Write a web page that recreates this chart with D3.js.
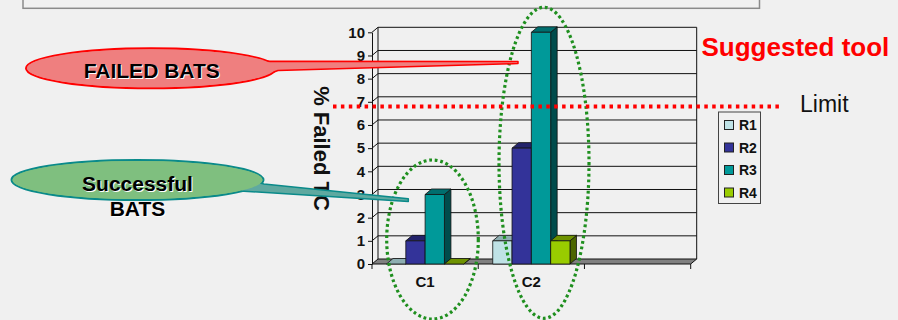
<!DOCTYPE html>
<html>
<head>
<meta charset="utf-8">
<script src="https://cdn.jsdelivr.net/npm/d3@7"></script>
<style>
  body { margin: 0; background: #f0f0f0; }
  svg { display: block; font-family: "Liberation Sans", Arial, sans-serif; }
</style>
</head>
<body>
<svg id="chart"></svg>
<script>
// chart data
const categories = ['C1', 'C2', 'C3'];
const category_labels = ['C1', 'C2', ''];
const series = ['R1', 'R2', 'R3', 'R4'];
const r1_values = [0, 1, null];
const r2_values = [1, 5, null];
const r3_values = [3, 10, null];
const r4_values = [0, 1, null];
const y_ticks = [0, 1, 2, 3, 4, 5, 6, 7, 8, 9, 10];
const limit_value = 6.8;

class Bar3DChart {
    constructor (config, data) {
        this.config = {
            parent: config.parent,
            width: config.width || 898,
            height: config.height || 320,
        };
        this.data = data;
        this.init();
    }

    init() {
        let self = this;

        self.svg = d3.select(self.config.parent)
            .attr('width', self.config.width)
            .attr('height', self.config.height);

        self.x0 = 372;
        self.x1 = 690.7;
        self.y0 = 264;
        self.y1 = 32.3;
        self.wall = {dx: 6, dy: -5};
        self.depth = {dx: 6.5, dy: -5.5};

        self.xscale = d3.scaleBand()
            .domain(categories)
            .range([self.x0, self.x1]);

        self.sscale = d3.scaleBand()
            .domain(series)
            .range([0, self.xscale.bandwidth()])
            .paddingInner(0)
            .paddingOuter(0.75);

        self.yscale = d3.scaleLinear()
            .domain([0, 10])
            .range([self.y0, self.y1]);

        self.colors = {
            R1: {front: '#bfe2e6', top: '#8eaeb1', side: '#5f7a7c'},
            R2: {front: '#333399', top: '#23236b', side: '#191950'},
            R3: {front: '#009999', top: '#006e6e', side: '#004c4c'},
            R4: {front: '#99cc00', top: '#6e9200', side: '#4c6600'},
        };
    }

    render() {
        let self = this;
        const w = self.wall;

        // frame box at top
        self.svg.append('rect')
            .attr('x', 23).attr('y', -40)
            .attr('width', 736.5).attr('height', 48.3)
            .attr('fill', 'none')
            .attr('stroke', '#8a8a8a')
            .attr('stroke-width', 1.5);

        // back wall gridlines and side wall
        const back = self.svg.append('g');
        y_ticks.filter(t => t > 0).forEach(t => {
            const y = self.yscale(t);
            back.append('line')
                .attr('x1', self.x0 + w.dx).attr('x2', self.x1 + w.dx)
                .attr('y1', y + w.dy).attr('y2', y + w.dy)
                .attr('stroke', '#111').attr('stroke-width', 1);
            back.append('line')
                .attr('x1', self.x0).attr('x2', self.x0 + w.dx)
                .attr('y1', y).attr('y2', y + w.dy)
                .attr('stroke', '#111').attr('stroke-width', 1);
        });
        [self.x0 + w.dx, self.x1 + w.dx].forEach(x => {
            back.append('line')
                .attr('x1', x).attr('x2', x)
                .attr('y1', self.yscale(10) + w.dy).attr('y2', self.y0 + w.dy)
                .attr('stroke', '#111').attr('stroke-width', 1);
        });

        // floor
        self.svg.append('polygon')
            .attr('points', [[self.x0, self.y0], [self.x0 + w.dx, self.y0 + w.dy],
                             [self.x1 + w.dx, self.y0 + w.dy], [self.x1, self.y0]].join(' '))
            .attr('fill', '#808080')
            .attr('stroke', '#111')
            .attr('stroke-width', 1);

        // y axis
        self.yaxis = d3.axisLeft(self.yscale)
            .tickValues(y_ticks)
            .tickSize(4)
            .tickPadding(3)
            .tickSizeOuter(0);
        const yg = self.svg.append('g')
            .attr('transform', `translate(${self.x0}, 0)`)
            .call(self.yaxis);
        yg.attr('font-family', null).attr('font-size', null);
        yg.selectAll('text')
            .style('font-size', '15px')
            .style('font-weight', 'bold')
            .attr('fill', '#111');
        yg.selectAll('line, path').attr('stroke', '#111');

        // x axis
        self.xaxis = d3.axisBottom(self.xscale)
            .tickFormat((d, i) => category_labels[i])
            .tickSize(0)
            .tickPadding(12);
        const xg = self.svg.append('g')
            .attr('transform', `translate(0, ${self.y0})`)
            .call(self.xaxis);
        xg.attr('font-family', null).attr('font-size', null);
        xg.select('.domain').remove();
        xg.selectAll('text')
            .style('font-size', '15px')
            .style('font-weight', 'bold')
            .attr('fill', '#111');
        const bounds = categories.map(c => self.xscale(c)).concat([self.x1]);
        self.svg.selectAll('.xtick')
            .data(bounds)
            .join('line')
            .attr('class', 'xtick')
            .attr('x1', d => d).attr('x2', d => d)
            .attr('y1', self.y0).attr('y2', self.y0 + 5)
            .attr('stroke', '#111');

        // bars
        const d = self.depth;
        const bw = self.sscale.bandwidth();
        const bars = self.svg.append('g');
        self.data.forEach(item => {
            const x = self.xscale(item.category) + self.sscale(item.series);
            const yt = self.yscale(item.value);
            const yb = self.yscale(0);
            const col = self.colors[item.series];
            const g = bars.append('g')
                .attr('stroke', '#111')
                .attr('stroke-width', 0.8)
                .attr('stroke-linejoin', 'round');
            g.append('polygon')
                .attr('points', [[x + bw, yt], [x + bw + d.dx, yt + d.dy],
                                 [x + bw + d.dx, yb + d.dy], [x + bw, yb]].join(' '))
                .attr('fill', col.side);
            g.append('polygon')
                .attr('points', [[x, yt], [x + d.dx, yt + d.dy],
                                 [x + bw + d.dx, yt + d.dy], [x + bw, yt]].join(' '))
                .attr('fill', col.top);
            if (yb - yt > 0.5) {
                g.append('rect')
                    .attr('x', x).attr('y', yt)
                    .attr('width', bw).attr('height', yb - yt)
                    .attr('fill', col.front);
            }
        });

        // dotted highlight ellipses
        const highlights = [
            {cx: 432.5, cy: 239.5, rx: 45.8, ry: 79.5},
            {cx: 544, cy: 162.8, rx: 45, ry: 155.5},
        ];
        self.svg.selectAll('.hl')
            .data(highlights)
            .join('ellipse')
            .attr('class', 'hl')
            .attr('cx', e => e.cx).attr('cy', e => e.cy)
            .attr('rx', e => e.rx).attr('ry', e => e.ry)
            .attr('fill', 'none')
            .attr('stroke', '#1f8f1f')
            .attr('stroke-width', 3.2)
            .attr('stroke-dasharray', '2.8,2.8');

        // y axis title
        self.svg.append('text')
            .attr('transform', `translate(314, 148.5) rotate(90)`)
            .attr('text-anchor', 'middle')
            .style('font-size', '22px')
            .style('font-weight', 'bold')
            .attr('fill', '#111')
            .text('% Failed TC');

        // callouts
        self.callout({cx: 151, cy: 68.3, rx: 125, ry: 20,
                      fill: '#ef7f7f', stroke: '#ff0000',
                      tail: 'M262,61.3 L518,61.6 L518,63.6 L278,70.5 Q270,73.5 262,76 Z',
                      tail_fill: '#ef7f7f', tail_stroke: '#ff0000',
                      lines: [{text: 'FAILED BATS', x: 151.7, y: 78.3}]});
        self.callout({cx: 137.5, cy: 180, rx: 126, ry: 20,
                      fill: '#7fbf7f', stroke: '#0a8a8a',
                      tail: 'M252,180.5 Q258,183 264,184 L408.3,198.8 L408.3,201.5 L240,191 Z',
                      tail_fill: '#5fa9a0', tail_stroke: '#0a8a8a',
                      lines: [{text: 'Successful', x: 137.5, y: 190.7},
                              {text: 'BATS', x: 137.5, y: 216}]});

        // limit line
        const ly = self.yscale(limit_value);
        self.svg.append('line')
            .attr('x1', 333).attr('x2', 780)
            .attr('y1', ly).attr('y2', ly)
            .attr('stroke', '#ff0000')
            .attr('stroke-width', 4)
            .attr('stroke-dasharray', '3.5,4.4');
        self.svg.append('text')
            .attr('x', 800).attr('y', 111.7)
            .style('font-size', '23px')
            .attr('fill', '#111')
            .text('Limit');

        self.svg.append('text')
            .attr('x', 701.5).attr('y', 56)
            .style('font-size', '26px')
            .style('font-weight', 'bold')
            .attr('fill', '#ff0000')
            .text('Suggested tool');

        // legend
        const legend = self.svg.append('g');
        legend.append('rect')
            .attr('x', 718.5).attr('y', 112)
            .attr('width', 42).attr('height', 91.5)
            .attr('fill', '#f0f0f0')
            .attr('stroke', '#444')
            .attr('stroke-width', 1);
        const items = legend.selectAll('.item')
            .data(series)
            .join('g')
            .attr('class', 'item')
            .attr('transform', (s, i) => `translate(724.5, ${125 + i * 22.5})`);
        items.append('rect')
            .attr('x', 0).attr('y', -4.5)
            .attr('width', 9).attr('height', 9)
            .attr('fill', s => self.colors[s].front)
            .attr('stroke', '#222')
            .attr('stroke-width', 1);
        items.append('text')
            .attr('x', 14.5).attr('y', 5)
            .style('font-size', '14px')
            .style('font-weight', 'bold')
            .attr('fill', '#111')
            .text(s => s);
    }

    callout(c) {
        let self = this;
        const g = self.svg.append('g');
        g.append('ellipse')
            .attr('cx', c.cx).attr('cy', c.cy)
            .attr('rx', c.rx).attr('ry', c.ry)
            .attr('fill', c.fill)
            .attr('stroke', c.stroke)
            .attr('stroke-width', 2);
        g.append('path')
            .attr('d', c.tail)
            .attr('fill', c.tail_fill)
            .attr('stroke', c.tail_stroke)
            .attr('stroke-width', 1.5)
            .attr('stroke-linejoin', 'round');
        g.append('ellipse')
            .attr('cx', c.cx).attr('cy', c.cy)
            .attr('rx', c.rx - 1).attr('ry', c.ry - 1)
            .attr('fill', c.fill);
        c.lines.forEach(l => {
            g.append('text')
                .attr('x', l.x + 1).attr('y', l.y + 1)
                .attr('text-anchor', 'middle')
                .style('font-size', '21px')
                .style('font-weight', 'bold')
                .attr('fill', '#ffffff')
                .text(l.text);
            g.append('text')
                .attr('x', l.x).attr('y', l.y)
                .attr('text-anchor', 'middle')
                .style('font-size', '21px')
                .style('font-weight', 'bold')
                .attr('fill', '#000')
                .text(l.text);
        });
    }
}

const data = [];
const values_by_series = {R1: r1_values, R2: r2_values, R3: r3_values, R4: r4_values};
categories.forEach((c, i) => {
    series.forEach(s => {
        const v = values_by_series[s][i];
        if (v !== null) data.push({category: c, series: s, value: v});
    });
});

const chart = new Bar3DChart({parent: '#chart', width: 898, height: 320}, data);
chart.render();
</script>
</body>
</html>
